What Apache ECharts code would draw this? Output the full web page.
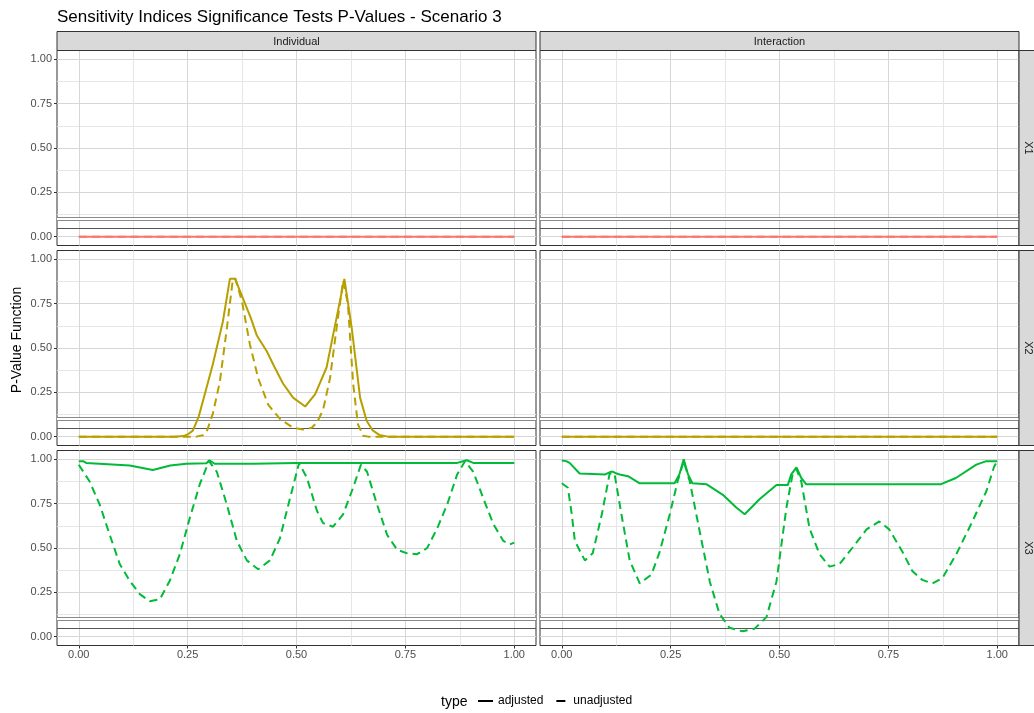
<!DOCTYPE html>
<html>
<head>
<meta charset="utf-8">
<script src="https://cdn.jsdelivr.net/npm/echarts@6/dist/echarts.min.js"></script>
<style>
html,body{margin:0;padding:0;background:#fff;}
#chart{width:1034px;height:713px;}
</style>
</head>
<body>
<div id="chart"></div>
<script>
// ---------- Data ----------
const colLabels = ['Individual', 'Interaction'];
const rowLabels = ['X1', 'X2', 'X3'];
const typeLabels = ['adjusted', 'unadjusted'];
const xTicks = [0, 0.25, 0.5, 0.75, 1];
const xMinor = [0.125, 0.375, 0.625, 0.875];
const yTicks = [0, 0.25, 0.5, 0.75, 1];
const yMinor = [0.125, 0.375, 0.625, 0.875];
const thresholdUpper = 0.095;
const thresholdLower = 0.05;

// Individual - X1
const indX1AdjX = [0, 1];
const indX1AdjY = [0, 0];
const indX1UnX = [0, 1];
const indX1UnY = [0, 0];
// Interaction - X1
const intX1AdjX = [0, 1];
const intX1AdjY = [0, 0];
const intX1UnX = [0, 1];
const intX1UnY = [0, 0];

// Individual - X2
const indX2AdjX = [0, 0.22, 0.24, 0.25, 0.262, 0.275, 0.285, 0.308, 0.331, 0.347, 0.359, 0.377, 0.395, 0.409, 0.432, 0.45, 0.469, 0.492, 0.52, 0.543, 0.569, 0.592, 0.61, 0.627, 0.646, 0.661, 0.675, 0.69, 0.71, 1];
const indX2AdjY = [0, 0, 0.003, 0.012, 0.034, 0.11, 0.2, 0.41, 0.65, 0.89, 0.89, 0.78, 0.67, 0.57, 0.48, 0.39, 0.30, 0.22, 0.17, 0.24, 0.39, 0.67, 0.89, 0.61, 0.22, 0.09, 0.035, 0.01, 0, 0];
const indX2UnX = [0, 0.27, 0.285, 0.294, 0.308, 0.324, 0.34, 0.354, 0.36, 0.375, 0.393, 0.412, 0.435, 0.462, 0.492, 0.515, 0.535, 0.547, 0.561, 0.577, 0.593, 0.607, 0.618, 0.63, 0.641, 0.653, 0.665, 1];
const indX2UnY = [0, 0, 0.008, 0.03, 0.13, 0.31, 0.61, 0.89, 0.89, 0.76, 0.52, 0.33, 0.18, 0.10, 0.05, 0.04, 0.05, 0.08, 0.15, 0.33, 0.63, 0.88, 0.75, 0.30, 0.07, 0.005, 0, 0];
// Interaction - X2
const intX2AdjX = [0, 1];
const intX2AdjY = [0, 0];
const intX2UnX = [0, 1];
const intX2UnY = [0, 0];

// Individual - X3
const indX3AdjX = [0, 0.01, 0.017, 0.117, 0.17, 0.21, 0.247, 0.293, 0.30, 0.312, 0.4, 0.5, 0.869, 0.891, 0.906, 1];
const indX3AdjY = [0.99, 0.99, 0.98, 0.965, 0.94, 0.965, 0.975, 0.978, 0.995, 0.975, 0.975, 0.98, 0.98, 0.995, 0.98, 0.98];
const indX3UnX = [0, 0.025, 0.048, 0.071, 0.094, 0.117, 0.14, 0.163, 0.186, 0.209, 0.232, 0.255, 0.278, 0.299, 0.317, 0.34, 0.363, 0.386, 0.412, 0.439, 0.462, 0.485, 0.506, 0.524, 0.547, 0.561, 0.584, 0.607, 0.63, 0.648, 0.662, 0.685, 0.708, 0.731, 0.754, 0.777, 0.8, 0.823, 0.846, 0.869, 0.887, 0.906, 0.929, 0.952, 0.975, 0.99, 1];
const indX3UnY = [0.97, 0.875, 0.745, 0.575, 0.41, 0.315, 0.24, 0.20, 0.21, 0.315, 0.465, 0.67, 0.86, 0.99, 0.93, 0.745, 0.54, 0.43, 0.38, 0.43, 0.555, 0.78, 0.98, 0.895, 0.71, 0.64, 0.62, 0.69, 0.84, 0.97, 0.93, 0.745, 0.575, 0.49, 0.47, 0.465, 0.50, 0.61, 0.745, 0.915, 0.99, 0.93, 0.78, 0.635, 0.54, 0.52, 0.53];
// Interaction - X3
const intX3AdjX = [0, 0.01, 0.018, 0.041, 0.10, 0.112, 0.118, 0.126, 0.133, 0.152, 0.179, 0.259, 0.27, 0.28, 0.29, 0.30, 0.332, 0.37, 0.40, 0.42, 0.454, 0.493, 0.519, 0.527, 0.539, 0.55, 0.561, 0.871, 0.905, 0.952, 0.975, 1];
const intX3AdjY = [0.994, 0.99, 0.98, 0.92, 0.915, 0.93, 0.93, 0.92, 0.915, 0.905, 0.865, 0.865, 0.915, 1.0, 0.915, 0.865, 0.86, 0.80, 0.73, 0.69, 0.775, 0.855, 0.855, 0.915, 0.955, 0.895, 0.86, 0.86, 0.895, 0.97, 0.99, 0.99];
const intX3UnX = [0, 0.014, 0.023, 0.03, 0.053, 0.071, 0.092, 0.11, 0.121, 0.137, 0.156, 0.179, 0.206, 0.225, 0.248, 0.266, 0.28, 0.294, 0.317, 0.34, 0.362, 0.385, 0.415, 0.443, 0.47, 0.493, 0.516, 0.53, 0.539, 0.55, 0.569, 0.592, 0.615, 0.638, 0.667, 0.70, 0.729, 0.752, 0.782, 0.805, 0.828, 0.851, 0.874, 0.906, 0.943, 0.975, 0.993, 1];
const intX3UnY = [0.865, 0.84, 0.69, 0.54, 0.43, 0.47, 0.69, 0.92, 0.92, 0.69, 0.43, 0.30, 0.35, 0.48, 0.69, 0.875, 0.99, 0.875, 0.59, 0.31, 0.13, 0.05, 0.03, 0.045, 0.11, 0.31, 0.73, 0.915, 0.945, 0.875, 0.61, 0.465, 0.395, 0.41, 0.50, 0.605, 0.65, 0.605, 0.48, 0.37, 0.32, 0.30, 0.33, 0.465, 0.65, 0.82, 0.96, 0.99];

// ---------- Layout / style ----------
const FONT = 'Liberation Sans, Arial, Helvetica, sans-serif';
const rowColors = ['#F8766D', '#B79F00', '#00BA38'];
const colLeft = [57, 540];
const panelW = 479;
const rowTop = [50.5, 250.5, 450.5];
const panelH = 195;

const panels = [
  {r:0, c:0, adj:[indX1AdjX, indX1AdjY], un:[indX1UnX, indX1UnY]},
  {r:0, c:1, adj:[intX1AdjX, intX1AdjY], un:[intX1UnX, intX1UnY]},
  {r:1, c:0, adj:[indX2AdjX, indX2AdjY], un:[indX2UnX, indX2UnY]},
  {r:1, c:1, adj:[intX2AdjX, intX2AdjY], un:[intX2UnX, intX2UnY]},
  {r:2, c:0, adj:[indX3AdjX, indX3AdjY], un:[indX3UnX, indX3UnY]},
  {r:2, c:1, adj:[intX3AdjX, intX3AdjY], un:[intX3UnX, intX3UnY]}
];

const zip = (xs, ys) => xs.map((x, i) => [x, ys[i]]);
const fmt = v => v.toFixed(2);
const MAJOR = {color: '#d6d6d6', width: 1};
const MINOR = {color: '#e6e6e6', width: 1};

const grids = [], xAxes = [], yAxes = [], series = [];
panels.forEach((p, i) => {
  grids.push({
    left: colLeft[p.c], top: rowTop[p.r], width: panelW, height: panelH,
    show: true, borderColor: '#333333', borderWidth: 1, backgroundColor: '#ffffff'
  });
  const bottomRow = p.r === 2;
  const leftCol = p.c === 0;
  xAxes.push({
    gridIndex: i, type: 'value', min: -0.05, max: 1.05, position: 'bottom',
    axisLine: {show: false, onZero: false},
    axisTick: {show: bottomRow, customValues: xTicks, length: 3, lineStyle: {color: '#333333', width: 1}},
    axisLabel: {show: bottomRow, customValues: xTicks, formatter: fmt, color: '#4d4d4d', fontSize: 11, margin: 4, fontFamily: FONT},
    splitLine: {show: true, lineStyle: MAJOR}
  });
  xAxes.push({
    gridIndex: i, type: 'value', min: -0.05, max: 1.05, position: 'top',
    axisLine: {show: false, onZero: false},
    axisTick: {show: false, customValues: xMinor},
    axisLabel: {show: false, customValues: xMinor},
    splitLine: {show: true, lineStyle: MINOR}
  });
  yAxes.push({
    gridIndex: i, type: 'value', min: -0.05, max: 1.05, position: 'left',
    axisLine: {show: false, onZero: false},
    axisTick: {show: leftCol, customValues: yTicks, length: 3, lineStyle: {color: '#333333', width: 1}},
    axisLabel: {show: leftCol, customValues: yTicks, formatter: fmt, color: '#4d4d4d', fontSize: 11, margin: 5, fontFamily: FONT},
    splitLine: {show: true, lineStyle: MAJOR}
  });
  yAxes.push({
    gridIndex: i, type: 'value', min: -0.05, max: 1.05, position: 'right',
    axisLine: {show: false, onZero: false},
    axisTick: {show: false, customValues: yMinor},
    axisLabel: {show: false, customValues: yMinor},
    splitLine: {show: true, lineStyle: MINOR}
  });
  const color = rowColors[p.r];
  series.push({
    name: typeLabels[0], type: 'line', xAxisIndex: 2 * i, yAxisIndex: 2 * i,
    data: zip(p.adj[0], p.adj[1]), showSymbol: false, symbol: 'none',
    lineStyle: {color: color, width: 2, type: 'solid'}, itemStyle: {color: color},
    z: 3,
    markLine: {
      silent: true, symbol: 'none', label: {show: false}, animation: false, z: 2,
      data: [
        {yAxis: thresholdUpper, lineStyle: {color: '#8a8a8a', width: 4, type: 'solid'}},
        {yAxis: thresholdUpper, lineStyle: {color: '#ffffff', width: 2, type: 'solid'}},
        {yAxis: thresholdLower, lineStyle: {color: '#555555', width: 1.2, type: 'solid'}}
      ]
    }
  });
  series.push({
    name: typeLabels[1], type: 'line', xAxisIndex: 2 * i, yAxisIndex: 2 * i,
    data: zip(p.un[0], p.un[1]), showSymbol: false, symbol: 'none',
    lineStyle: {color: color, width: 2, type: [8, 5]}, itemStyle: {color: color},
    z: 3
  });
});

// strips & texts
const graphics = [];
colLabels.forEach((lab, c) => {
  graphics.push({type: 'rect', x: colLeft[c], y: 31.5, shape: {width: panelW, height: 19},
    style: {fill: '#d9d9d9', stroke: '#333333', lineWidth: 1}, z: 10});
  graphics.push({type: 'text', x: colLeft[c] + panelW / 2, y: 42,
    style: {text: lab, fill: '#1a1a1a', font: '11px ' + FONT, textAlign: 'center', textVerticalAlign: 'middle'}, z: 11});
});
rowLabels.forEach((lab, r) => {
  graphics.push({type: 'rect', x: 1019, y: rowTop[r], shape: {width: 24, height: panelH},
    style: {fill: '#d9d9d9', stroke: '#333333', lineWidth: 1}, z: 10});
  graphics.push({type: 'text', x: 1028, y: rowTop[r] + panelH / 2, rotation: -Math.PI / 2,
    style: {text: lab, fill: '#1a1a1a', font: '11px ' + FONT, textAlign: 'center', textVerticalAlign: 'middle'}, z: 11});
});
graphics.push({type: 'text', x: 17, y: 340, rotation: Math.PI / 2,
  style: {text: 'P-Value Function', fill: '#000000', font: '14px ' + FONT, textAlign: 'center', textVerticalAlign: 'middle'}});

const option = {
  animation: false,
  textStyle: {fontFamily: FONT},
  title: [
    {text: 'Sensitivity Indices Significance Tests P-Values - Scenario 3', left: 52, top: 4,
     textStyle: {fontSize: 17, fontWeight: 'normal', color: '#000000', fontFamily: FONT}},
    {text: 'type', left: 436, top: 690, textStyle: {fontSize: 14, fontWeight: 'normal', color: '#000000', fontFamily: FONT}}
  ],
  legend: {
    left: 473, top: 690, itemWidth: 15, itemHeight: 2, itemGap: 10,
    textStyle: {fontSize: 12, color: '#000000', fontFamily: FONT},
    data: [
      {name: typeLabels[0], icon: 'rect', itemStyle: {color: '#000000'}},
      {name: typeLabels[1], icon: 'path://M3,0h9v2h-9z M0,0h0.01v0.01h-0.01z M15,0h0.01v0.01h-0.01z', itemStyle: {color: '#000000'}}
    ]
  },
  grid: grids,
  xAxis: xAxes,
  yAxis: yAxes,
  series: series,
  graphic: graphics
};

const chart = echarts.init(document.getElementById('chart'), null, {renderer: 'canvas'});
chart.setOption(option);
</script>
</body>
</html>
